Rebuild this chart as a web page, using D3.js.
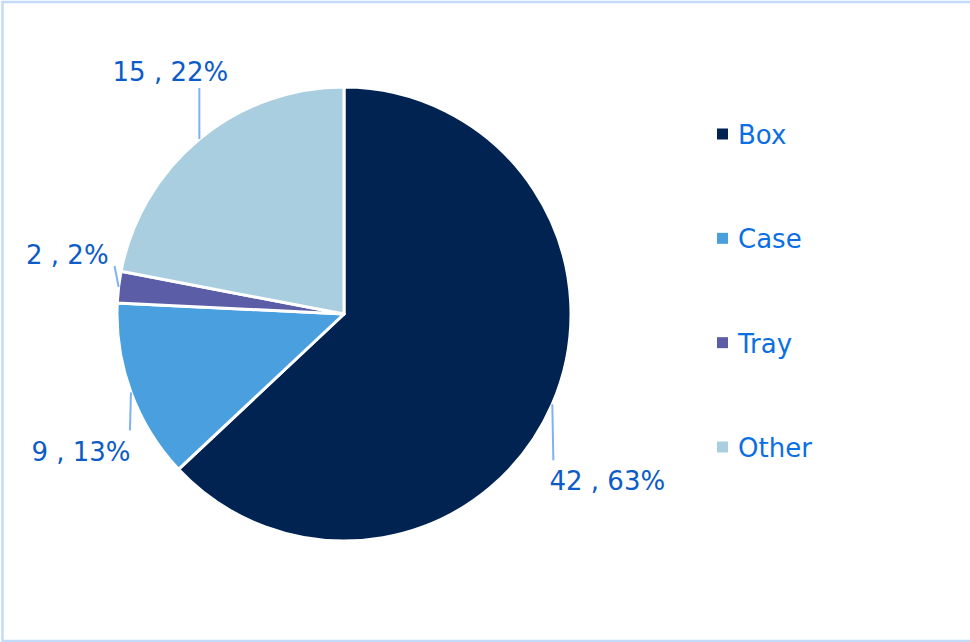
<!DOCTYPE html>
<html>
<head>
<meta charset="utf-8">
<script src="https://cdn.jsdelivr.net/npm/d3@7/dist/d3.min.js"></script>
<style>
  html, body { margin: 0; padding: 0; background: #ffffff; }
  svg { display: block; font-family: "DejaVu Sans", Verdana, sans-serif; }
</style>
</head>
<body>
<svg id="chart" width="970" height="642"></svg>
<script>
// Packaging types and their shares
const categories = ["Box", "Case", "Tray", "Other"];
const values = [42.4, 8.6, 1.5, 14.8];
const colors = ["#002352", "#4aa0df", "#5b5ea6", "#a9cee0"];

// Label placement around the pie: leader end and text offsets from the arc anchor
const labelLayout = [
  { lx: 1,  ly: 56,  tx: 55,  ty: 86,  anchor: "middle" },
  { lx: -1, ly: 38,  tx: -50, ty: 69,  anchor: "middle" },
  { lx: -4, ly: -21, tx: -10, ty: -23, anchor: "end" },
  { lx: 0,  ly: -51, tx: -29, ty: -58, anchor: "middle" }
];

const svg = d3.select("#chart");
const W = 970, H = 642;

// Chart area frame (open on the right side)
svg.append("rect")
  .attr("x", 2.5).attr("y", 2)
  .attr("width", W + 20).attr("height", H - 3)
  .attr("fill", "none")
  .attr("stroke", "#c3dbf8")
  .attr("stroke-width", 2.5);

const cx = 344, cy = 314, radius = 227;
const total = d3.sum(values);
const data = categories.map((c, i) => ({ name: c, value: values[i], color: colors[i], layout: labelLayout[i] }));

const pie = d3.pie().sort(null).value(d => d.value).startAngle(0).endAngle(2 * Math.PI);
const arc = d3.arc().innerRadius(0).outerRadius(radius);
const arcs = pie(data);

const g = svg.append("g").attr("transform", `translate(${cx},${cy})`);

g.selectAll("path.slice")
  .data(arcs)
  .join("path")
  .attr("class", "slice")
  .attr("d", arc)
  .attr("fill", d => d.data.color)
  .attr("stroke", "#ffffff")
  .attr("stroke-width", 3)
  .attr("stroke-linejoin", "round");

// Data labels with leader lines
const fmtVal = d3.format(".0f");
const fmtPct = d3.format(".0%");

arcs.forEach(d => {
  const mid = (d.startAngle + d.endAngle) / 2;
  const ax = radius * Math.sin(mid);
  const ay = -radius * Math.cos(mid);
  const L = d.data.layout;
  g.append("line")
    .attr("x1", ax).attr("y1", ay)
    .attr("x2", ax + L.lx).attr("y2", ay + L.ly)
    .attr("stroke", "#7fb2f5")
    .attr("stroke-width", 2);
  g.append("text")
    .attr("x", ax + L.tx).attr("y", ay + L.ty)
    .attr("text-anchor", L.anchor)
    .attr("font-size", 26)
    .attr("fill", "#0d5bc6")
    .text(`${fmtVal(d.data.value)} , ${fmtPct(d.data.value / total)}`);
});

// Legend
const legendY = d3.scalePoint().domain(categories).range([134, 447]);
const legend = svg.append("g");
data.forEach(d => {
  const y = legendY(d.name);
  legend.append("rect")
    .attr("x", 717).attr("y", y - 5.5)
    .attr("width", 11).attr("height", 11)
    .attr("fill", d.color);
  legend.append("text")
    .attr("x", 738).attr("y", y + 10)
    .attr("font-size", 26)
    .attr("fill", "#0b6fe3")
    .text(d.name);
});
</script>
</body>
</html>
